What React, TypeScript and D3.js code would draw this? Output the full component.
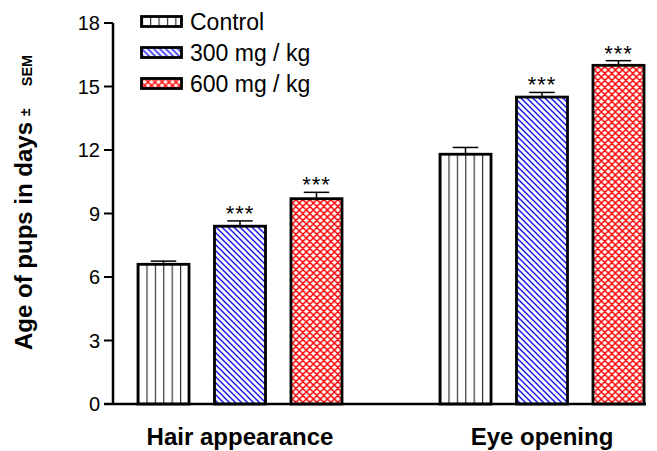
import React from "react";
import * as d3 from "d3";

const groups = ["Hair appearance", "Eye opening"];
const series = ["Control", "300 mg / kg", "600 mg / kg"];
const means = [
  [6.6, 8.4, 9.7],
  [11.8, 14.5, 16.0],
];
const sems = [
  [0.15, 0.25, 0.3],
  [0.32, 0.22, 0.22],
];
const stars = [
  ["", "***", "***"],
  ["", "***", "***"],
];
const yTicks = [0, 3, 6, 9, 12, 15, 18];

const W = 657;
const H = 451;
const font = "'Liberation Sans', Arial, sans-serif";

function Patterns({ id, x, kind }: { id: string; x: number; kind: number }) {
  if (kind === 0)
    return (
      <pattern id={id} patternUnits="userSpaceOnUse" width={8.4} height={10} x={x}>
        <rect width={8.4} height={10} fill="#fff" />
        <line x1={0.6} y1={0} x2={0.6} y2={10} stroke="#222" strokeWidth={1.1} />
      </pattern>
    );
  if (kind === 1)
    return (
      <pattern id={id} patternUnits="userSpaceOnUse" width={6} height={6} x={x}>
        <rect width={6} height={6} fill="#fff" />
        <path d="M-1,-1 L7,7 M-1,5 L1,7 M5,-1 L7,1" stroke="#0000ee" strokeWidth={1.3} />
      </pattern>
    );
  return (
    <pattern id={id} patternUnits="userSpaceOnUse" width={7} height={7} x={x}>
      <rect width={7} height={7} fill="#fff" />
      <path
        d="M-1,-1 L8,8 M-1,6 L1,8 M6,-1 L8,1 M8,-1 L-1,8 M-1,1 L1,-1 M6,8 L8,6"
        stroke="#ff0000"
        strokeWidth={1.5}
      />
    </pattern>
  );
}

export default function App() {
  const y = d3.scaleLinear().domain([0, 18]).range([404, 23]);
  const xg = d3.scalePoint<string>().domain(groups).range([240, 542]);
  const xs = d3
    .scaleBand<string>()
    .domain(series)
    .range([-102, 102])
    .paddingInner(0.333);
  const bw = xs.bandwidth();

  const bars = groups.flatMap((g, gi) =>
    series.map((s, si) => ({
      key: `${gi}-${si}`,
      gi,
      si,
      x0: (xg(g) ?? 0) + (xs(s) ?? 0),
    }))
  );

  return (
    <svg
      width={W}
      height={H}
      style={{ position: "absolute", left: 0, top: 0, background: "#fff" }}
      fontFamily={font}
    >
      <defs>
        {bars.map((b) => (
          <Patterns key={b.key} id={`p${b.key}`} x={b.x0 + 8.4} kind={b.si} />
        ))}
        {series.map((s, i) => (
          <Patterns key={s} id={`l${i}`} x={143} kind={i} />
        ))}
      </defs>

      {/* bars */}
      {bars.map(({ key, gi, si, x0 }) => {
        const top = y(means[gi][si]);
        const eTop = y(means[gi][si] + sems[gi][si]);
        const cx = x0 + bw / 2;
        return (
          <g key={key}>
            <line x1={cx} x2={cx} y1={top} y2={eTop} stroke="#000" strokeWidth={1.5} />
            <line x1={cx - bw / 4} x2={cx + bw / 4} y1={eTop} y2={eTop} stroke="#000" strokeWidth={1.5} />
            <rect
              x={x0}
              y={top}
              width={bw}
              height={y(0) - top}
              fill={`url(#p${key})`}
              stroke="#000"
              strokeWidth={2.8}
            />
            {stars[gi][si] && (
              <text x={cx} y={eTop} textAnchor="middle" fontSize={22} letterSpacing={1}>
                {stars[gi][si]}
              </text>
            )}
          </g>
        );
      })}

      {/* axes */}
      <line x1={113} x2={113} y1={y(18)} y2={y(0)} stroke="#000" strokeWidth={2.5} />
      <line x1={104} x2={646} y1={y(0)} y2={y(0)} stroke="#000" strokeWidth={2.5} />
      {yTicks.map((t) => (
        <g key={t}>
          <line x1={104} x2={113} y1={y(t)} y2={y(t)} stroke="#000" strokeWidth={2} />
          <text x={100} y={y(t)} dy="0.35em" textAnchor="end" fontSize={20}>
            {t}
          </text>
        </g>
      ))}

      {groups.map((g) => (
        <text key={g} x={xg(g)} y={445} textAnchor="middle" fontSize={24} fontWeight="bold">
          {g}
        </text>
      ))}

      <text transform="translate(32,350) rotate(-90)" fontSize={24} fontWeight="bold">
        Age of pups in days
        <tspan fontSize={14} dx={6} dy={-2}>±</tspan>
        <tspan fontSize={14.5} dx={22} dy={2}>SEM</tspan>
      </text>

      {/* legend */}
      {series.map((s, i) => (
        <g key={s} transform={`translate(141.5,${16.5 + i * 31})`}>
          <rect width={40} height={10} fill={`url(#l${i})`} stroke="#000" strokeWidth={2.8} />
          <text x={48.5} y={5} dy="0.36em" fontSize={23}>
            {s}
          </text>
        </g>
      ))}
    </svg>
  );
}
